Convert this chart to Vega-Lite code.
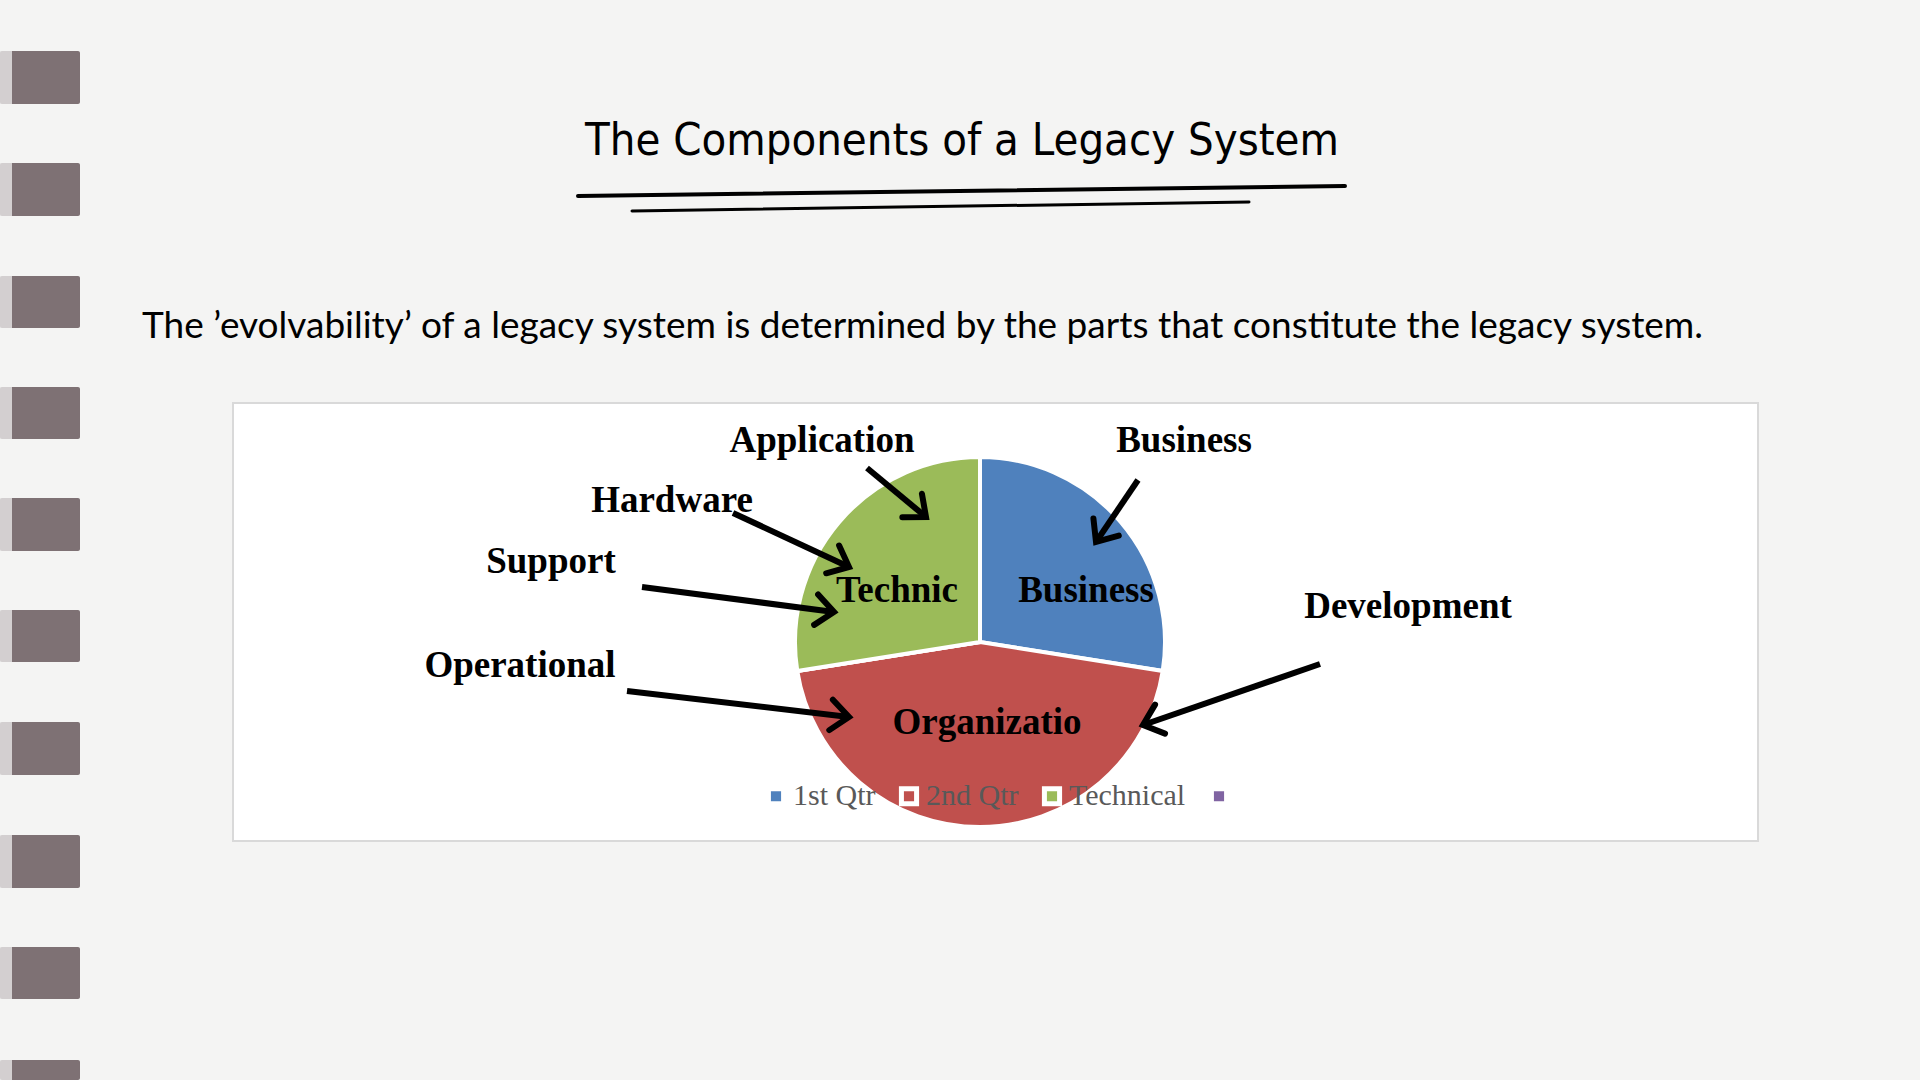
{
  "$schema": "https://vega.github.io/schema/vega-lite/v6.json",
  "width": 1920,
  "height": 1080,
  "autosize": {"type": "fit", "contains": "padding"},
  "padding": 0,
  "background": "#f4f4f3",
  "config": {"view": {"stroke": null}},
  "datasets": {
    "tabs": [
      {"y": 51, "y2": 104}, {"y": 163, "y2": 216}, {"y": 276, "y2": 328}, {"y": 387, "y2": 439},
      {"y": 498, "y2": 551}, {"y": 610, "y2": 662}, {"y": 722, "y2": 775}, {"y": 835, "y2": 888},
      {"y": 947, "y2": 999}, {"y": 1060, "y2": 1080}
    ],
    "underlines": [
      {"x": 578, "y": 196, "x2": 1345, "y2": 186, "w": "a"},
      {"x": 632, "y": 211, "x2": 1249, "y2": 202, "w": "b"}
    ],
    "pie": [
      {"quarter": "1st Qtr", "value": 27.5},
      {"quarter": "2nd Qtr", "value": 45},
      {"quarter": "4th Qtr", "value": 0},
      {"quarter": "Technical", "value": 27.5}
    ],
    "inner": [
      {"label": "Business", "x": 1086, "y": 602},
      {"label": "Technic", "x": 897, "y": 602},
      {"label": "Organizatio", "x": 987, "y": 734}
    ],
    "outer": [
      {"label": "Application", "x": 822, "y": 452},
      {"label": "Business", "x": 1184, "y": 452},
      {"label": "Hardware", "x": 672, "y": 512},
      {"label": "Support", "x": 551, "y": 573},
      {"label": "Development", "x": 1408, "y": 618},
      {"label": "Operational", "x": 520, "y": 677}
    ],
    "arrows": [
      {"name": "Application", "x": 867, "y": 468, "x2": 926, "y2": 517},
      {"name": "Business", "x": 1138, "y": 480, "x2": 1096, "y2": 542},
      {"name": "Hardware", "x": 733, "y": 513, "x2": 849, "y2": 567},
      {"name": "Support", "x": 642, "y": 587, "x2": 834, "y2": 612},
      {"name": "Development", "x": 1320, "y": 664, "x2": 1143, "y2": 725},
      {"name": "Operational", "x": 627, "y": 691, "x2": 849, "y2": 717}
    ]
  },
  "layer": [
    {
      "data": {"name": "tabs"},
      "mark": {"type": "rect", "fill": "#7e7174", "cornerRadius": 2},
      "encoding": {
        "x": {"datum": 0, "type": "quantitative", "scale": {"domain": [0, 1920], "nice": false, "zero": false}, "axis": null},
        "x2": {"datum": 80},
        "y": {"field": "y", "type": "quantitative", "scale": {"domain": [0, 1080], "nice": false, "zero": false, "reverse": true}, "axis": null},
        "y2": {"field": "y2"}
      }
    },
    {
      "data": {"name": "tabs"},
      "mark": {"type": "rect", "fill": "#e9e7e7", "opacity": 0.8},
      "encoding": {
        "x": {"datum": 0, "type": "quantitative"},
        "x2": {"datum": 12},
        "y": {"field": "y", "type": "quantitative"},
        "y2": {"field": "y2"}
      }
    },
    {
      "data": {"values": [{"t": "The Components of a Legacy System"}]},
      "mark": {"type": "text", "font": "Liberation Sans Narrow, DejaVu Sans Condensed, Roboto Condensed, Lato", "fontSize": 45, "align": "center", "baseline": "alphabetic", "color": "#000000"},
      "encoding": {
        "text": {"field": "t"},
        "x": {"datum": 962, "type": "quantitative"},
        "y": {"datum": 155, "type": "quantitative"}
      }
    },
    {
      "data": {"name": "underlines"},
      "mark": {"type": "rule", "color": "#000000", "strokeCap": "round"},
      "encoding": {
        "x": {"field": "x", "type": "quantitative"},
        "y": {"field": "y", "type": "quantitative"},
        "x2": {"field": "x2"},
        "y2": {"field": "y2"},
        "strokeWidth": {"field": "w", "type": "nominal", "scale": {"domain": ["a", "b"], "range": [4, 3]}, "legend": null}
      }
    },
    {
      "data": {"values": [{"t": "The ’evolvability’ of a legacy system is determined by the parts that constitute the legacy system."}]},
      "mark": {"type": "text", "font": "Lato", "fontSize": 37, "align": "left", "baseline": "alphabetic", "color": "#000000"},
      "encoding": {
        "text": {"field": "t"},
        "x": {"datum": 142, "type": "quantitative"},
        "y": {"datum": 338, "type": "quantitative"}
      }
    },
    {
      "data": {"values": [{"box": "chart"}]},
      "mark": {"type": "rect", "fill": "#ffffff", "stroke": "#d9d9d9", "strokeWidth": 2},
      "encoding": {
        "x": {"datum": 233, "type": "quantitative"},
        "x2": {"datum": 1758},
        "y": {"datum": 403, "type": "quantitative"},
        "y2": {"datum": 841}
      }
    },
    {
      "data": {"name": "pie"},
      "mark": {"type": "arc", "outerRadius": 185, "stroke": "#ffffff", "strokeWidth": 4},
      "encoding": {
        "theta": {"field": "value", "type": "quantitative", "stack": true},
        "order": {"field": "quarter", "type": "ordinal", "sort": "ascending"},
        "color": {
          "field": "quarter", "type": "nominal",
          "scale": {"domain": ["1st Qtr", "2nd Qtr", "Technical", "4th Qtr"], "range": ["#4f81bd", "#c0504d", "#9bbb59", "#8064a2"]},
          "legend": {
            "orient": "none", "legendX": 761, "legendY": 781, "direction": "horizontal", "title": null,
            "symbolType": "square", "symbolSize": 230, "symbolStrokeColor": "#ffffff", "symbolStrokeWidth": 5, "symbolOpacity": 1,
            "labelFont": "Liberation Serif", "labelFontSize": 30, "labelColor": "#595959", "columnPadding": 15, "labelOffset": 2, "padding": 0,
            "labelExpr": "datum.label == '4th Qtr' ? '' : datum.label"
          }
        },
        "x": {"datum": 980, "type": "quantitative"},
        "y": {"datum": 642, "type": "quantitative"}
      }
    },
    {
      "data": {"name": "inner"},
      "mark": {"type": "text", "font": "Liberation Serif", "fontWeight": "bold", "fontSize": 37, "align": "center", "baseline": "alphabetic", "color": "#000000"},
      "encoding": {
        "text": {"field": "label"},
        "x": {"field": "x", "type": "quantitative"},
        "y": {"field": "y", "type": "quantitative"}
      }
    },
    {
      "data": {"name": "outer"},
      "mark": {"type": "text", "font": "Liberation Serif", "fontWeight": "bold", "fontSize": 37, "align": "center", "baseline": "alphabetic", "color": "#000000"},
      "encoding": {
        "text": {"field": "label"},
        "x": {"field": "x", "type": "quantitative"},
        "y": {"field": "y", "type": "quantitative"}
      }
    },
    {
      "data": {"name": "arrows"},
      "mark": {"type": "rule", "color": "#000000", "strokeWidth": 6, "strokeCap": "butt"},
      "encoding": {
        "x": {"field": "x", "type": "quantitative"},
        "y": {"field": "y", "type": "quantitative"},
        "x2": {"field": "x2"},
        "y2": {"field": "y2"}
      }
    },
    {
      "data": {"name": "arrows"},
      "transform": [{"calculate": "atan2(datum.y2 - datum.y, datum.x2 - datum.x) * 180 / PI", "as": "ang"}],
      "mark": {"type": "point", "shape": "M-1,-0.85L0,0L-1,0.85", "filled": false, "stroke": "#000000", "strokeWidth": 6, "size": 1300, "opacity": 1, "strokeJoin": "miter", "strokeCap": "round"},
      "encoding": {
        "x": {"field": "x2", "type": "quantitative"},
        "y": {"field": "y2", "type": "quantitative"},
        "angle": {"field": "ang", "type": "quantitative", "scale": null}
      }
    }
  ]
}
